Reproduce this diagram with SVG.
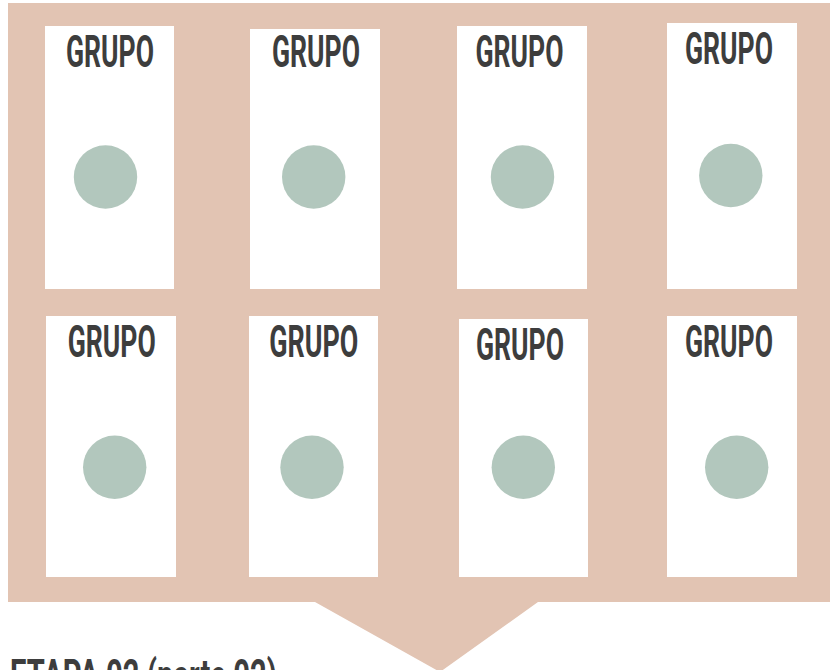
<svg xmlns="http://www.w3.org/2000/svg" width="830" height="670" viewBox="0 0 830 670">
<style>
.card{fill:#ffffff}
.dot{fill:#b2c7bd}
.lbl{font-family:Roboto,"Liberation Sans",sans-serif;font-weight:700;font-size:45px;fill:#3d3d3d;text-anchor:middle}
.title{font-family:Roboto,"Liberation Sans",sans-serif;font-weight:700;font-size:45px;fill:#3d3d3d}
</style>
<rect width="830" height="670" fill="#ffffff"/>
<path id="panel" d="M8,3 H830 V602 H538 L440,672 L315,602 H8 Z" fill="#e2c4b3"/>
<g id="g1"><rect class="card" x="45" y="26" width="129" height="263"/><text class="lbl" x="110" y="67" textLength="88" lengthAdjust="spacingAndGlyphs">GRUPO</text><circle class="dot" cx="105.5" cy="177" r="31.7"/></g>
<g id="g2"><rect class="card" x="250" y="29" width="130" height="260"/><text class="lbl" x="316" y="67" textLength="88" lengthAdjust="spacingAndGlyphs">GRUPO</text><circle class="dot" cx="313.7" cy="177" r="31.7"/></g>
<g id="g3"><rect class="card" x="457" y="26" width="130" height="263"/><text class="lbl" x="519.5" y="67" textLength="88" lengthAdjust="spacingAndGlyphs">GRUPO</text><circle class="dot" cx="522.5" cy="177" r="31.7"/></g>
<g id="g4"><rect class="card" x="667" y="23" width="130" height="266"/><text class="lbl" x="729" y="63.5" textLength="88" lengthAdjust="spacingAndGlyphs">GRUPO</text><circle class="dot" cx="730.8" cy="175.5" r="31.7"/></g>
<g id="g5"><rect class="card" x="46" y="316" width="130" height="261"/><text class="lbl" x="111.7" y="357" textLength="88" lengthAdjust="spacingAndGlyphs">GRUPO</text><circle class="dot" cx="114.7" cy="467.3" r="31.7"/></g>
<g id="g6"><rect class="card" x="249" y="316" width="129" height="261"/><text class="lbl" x="313.8" y="357" textLength="89" lengthAdjust="spacingAndGlyphs">GRUPO</text><circle class="dot" cx="312" cy="467.3" r="31.7"/></g>
<g id="g7"><rect class="card" x="459" y="319" width="129" height="258"/><text class="lbl" x="520" y="360" textLength="88" lengthAdjust="spacingAndGlyphs">GRUPO</text><circle class="dot" cx="523.3" cy="467.3" r="31.7"/></g>
<g id="g8"><rect class="card" x="667" y="316" width="130" height="261"/><text class="lbl" x="729" y="357" textLength="88" lengthAdjust="spacingAndGlyphs">GRUPO</text><circle class="dot" cx="736.7" cy="467.3" r="31.7"/></g>
<g id="connectors"/>
<text id="title" class="title" x="10" y="691" textLength="267" lengthAdjust="spacingAndGlyphs">ETAPA 02 (parte 02)</text>
</svg>
